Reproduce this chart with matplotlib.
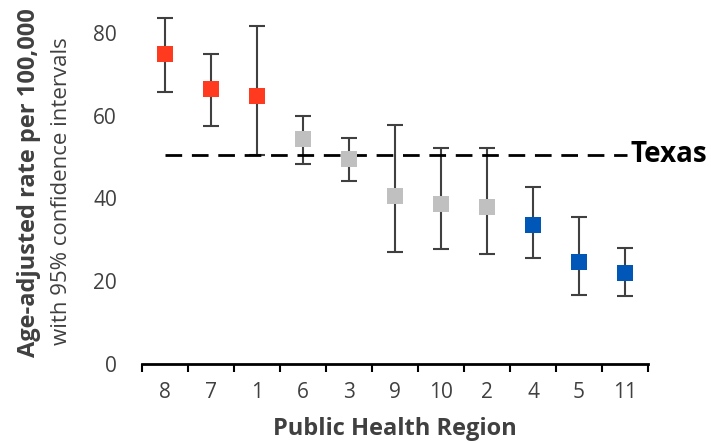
import matplotlib.pyplot as plt

# Data
regions = ['8', '7', '1', '6', '3', '9', '10', '2', '4', '5', '11']
rate = [74.9, 66.5, 64.8, 54.4, 49.5, 40.6, 38.7, 37.9, 33.6, 24.7, 22.0]
ci_low = [65.7, 57.5, 50.5, 48.3, 44.2, 27.1, 27.8, 26.6, 25.6, 16.7, 16.4]
ci_high = [83.6, 74.9, 81.5, 59.9, 54.6, 57.8, 52.2, 52.2, 42.8, 35.5, 28.0]
groups = ['high', 'high', 'high', 'mid', 'mid', 'mid', 'mid', 'mid', 'low', 'low', 'low']
texas_rate = 50.5

group_colors = {'high': '#FF3A1F', 'mid': '#C0C0C0', 'low': '#0057B8'}
text_color = '#404040'

plt.rcParams['font.family'] = ['Open Sans', 'DejaVu Sans']

fig = plt.figure(figsize=(7.11, 4.43), dpi=100)
ax = fig.add_axes([142 / 711, 1 - 364 / 443, (648 - 142) / 711, 352 / 443])

x = list(range(len(regions)))

# Error bars
for i in x:
    ax.errorbar(i, rate[i], yerr=[[rate[i] - ci_low[i]], [ci_high[i] - rate[i]]],
                fmt='none', ecolor=text_color, elinewidth=1.5, capsize=6, capthick=1.5, zorder=2)

# Texas reference line
ax.plot([0, len(regions) - 1 + 0.05], [texas_rate, texas_rate], color='black',
        linestyle=(0, (6, 3.5)), linewidth=2, zorder=3)
ax.text(len(regions) - 1 + 0.13, texas_rate, 'Texas', fontsize=20, fontweight='bold',
        color='black', va='center', ha='left', clip_on=False)

# Points
for i in x:
    ax.plot(i, rate[i], marker='s', markersize=12, color=group_colors[groups[i]],
            markeredgewidth=0, linestyle='none', zorder=4)

ax.set_xlim(-0.5, len(regions) - 0.5)
ax.set_ylim(0, 85)
ax.set_yticks([0, 20, 40, 60, 80])
ax.set_xticks(x)
ax.set_xticklabels(regions)
ax.set_xticks([i - 0.5 for i in range(len(regions) + 1)], minor=True)

for side in ['top', 'right', 'left']:
    ax.spines[side].set_visible(False)
ax.spines['bottom'].set_linewidth(2)
ax.spines['bottom'].set_color('black')

ax.tick_params(axis='y', length=0, labelsize=15, labelcolor=text_color, pad=18)
ax.tick_params(axis='x', which='major', length=0, labelsize=15, labelcolor=text_color, pad=13)

ax.tick_params(axis='x', which='minor', length=6, width=1.5, color='black', direction='out')

fig.text(395 / 711, 1 - 429 / 443, 'Public Health Region', fontsize=17, fontweight='bold',
         color=text_color, ha='center', va='center')
fig.text(29 / 711, 1 - 183 / 443, 'Age-adjusted rate per 100,000', rotation=90, fontsize=17,
         fontweight='bold', color=text_color, ha='center', va='center')
fig.text(62 / 711, 1 - 191 / 443, 'with 95% confidence intervals', rotation=90, fontsize=16,
         color=text_color, ha='center', va='center')

fig.savefig('out.png', dpi=100)
